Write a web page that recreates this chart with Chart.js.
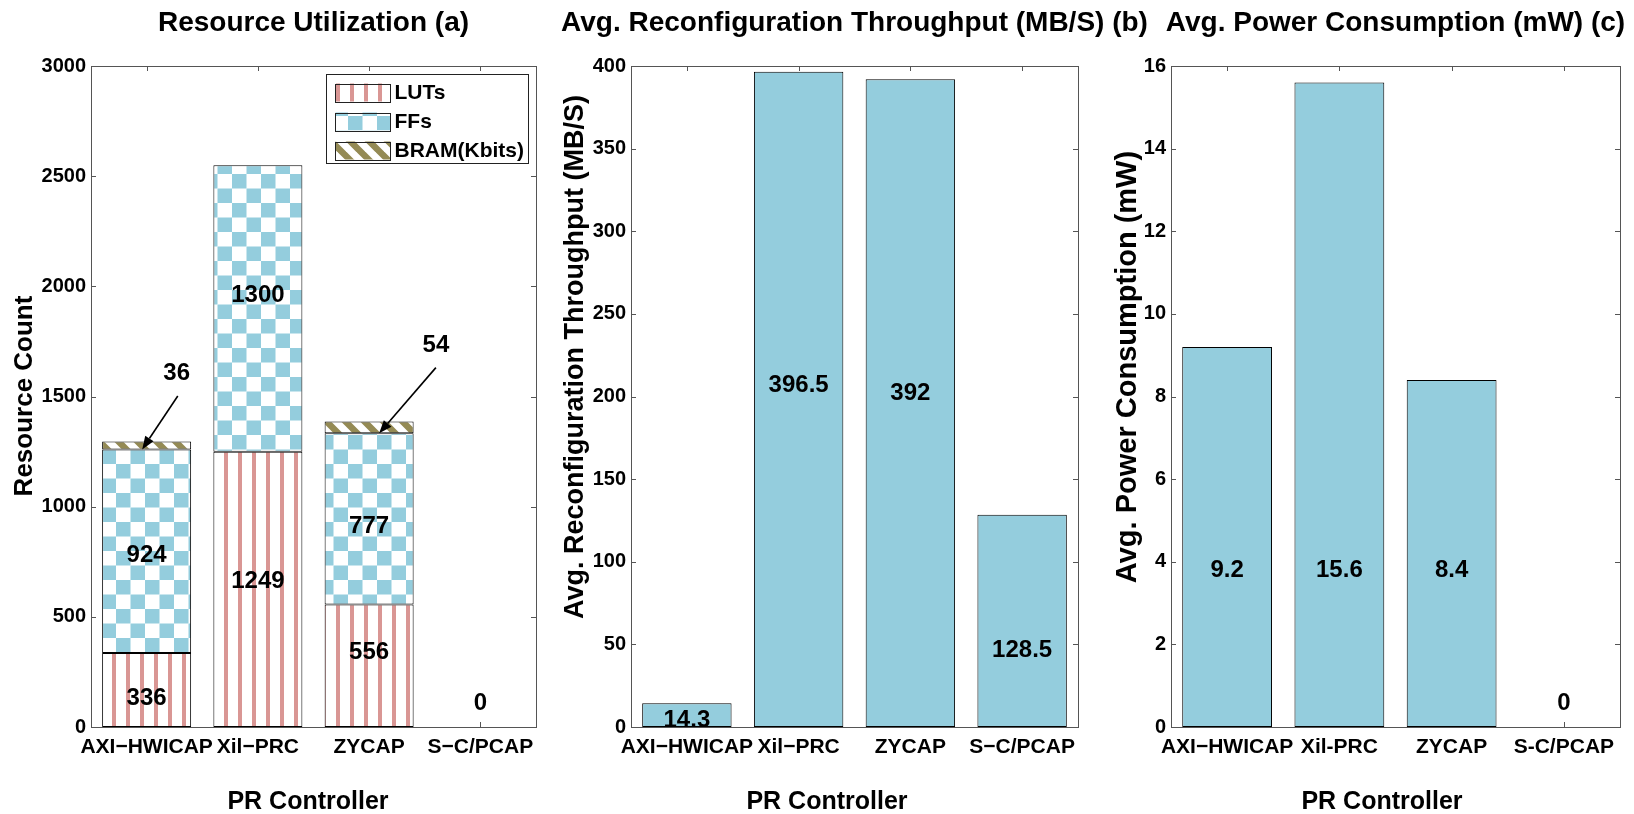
<!DOCTYPE html>
<html><head><meta charset="utf-8">
<script src="https://cdn.jsdelivr.net/npm/chart.js@4.4.1/dist/chart.umd.min.js"></script>
<style>
html,body{margin:0;padding:0;background:#fff;width:1634px;height:814px;overflow:hidden;position:relative;}
canvas{position:absolute;top:0;}
</style></head><body>
<canvas id="ca" width="627" height="814" style="left:0px"></canvas>
<canvas id="cb" width="619" height="814" style="left:545px"></canvas>
<canvas id="cc" width="571" height="814" style="left:1110px"></canvas>
<script>
// ---------- data ----------
const categoriesAB = ['AXI\u2212HWICAP', 'Xil\u2212PRC', 'ZYCAP', 'S\u2212C/PCAP'];
const categoriesC  = ['AXI\u2212HWICAP', 'Xil-PRC', 'ZYCAP', 'S-C/PCAP'];
const lutValues  = [336, 1249, 556, 0];
const ffValues   = [924, 1300, 777, 0];
const bramValues = [36, 0, 54, 0];
const throughputValues = [14.3, 396.5, 392, 128.5];
const powerValues = [9.2, 15.6, 8.4, 0];
const resourceTicks   = [0, 500, 1000, 1500, 2000, 2500, 3000];
const throughputTicks = [0, 50, 100, 150, 200, 250, 300, 350, 400];
const powerTicks      = [0, 2, 4, 6, 8, 10, 12, 14, 16];

// ---------- styles ----------
const FAMILY = "'Liberation Sans', Arial, Helvetica, sans-serif";
const AXIS = '#555555';
const BLUE = '#94CDDD';
const PINK = '#D99694';
const OLIVE = '#948A54';
Chart.defaults.font.family = FAMILY;
Chart.defaults.color = '#000';

function makePattern(ctx, w, h, draw) {
  const c = document.createElement('canvas'); c.width = w; c.height = h;
  const g = c.getContext('2d');
  g.fillStyle = '#fff'; g.fillRect(0, 0, w, h);
  draw(g, w, h);
  return ctx.createPattern(c, 'repeat');
}
function lutPattern(ctx) { return makePattern(ctx, 14, 14, g => { g.fillStyle = PINK; g.fillRect(0, 0, 4, 14); }); }
function ffPattern(ctx) { return makePattern(ctx, 29, 29, g => { g.fillStyle = BLUE; g.fillRect(0, 0, 14.5, 14.5); g.fillRect(14.5, 14.5, 14.5, 14.5); }); }
function bramPattern(ctx) {
  return makePattern(ctx, 19, 19, g => {
    g.strokeStyle = OLIVE; g.lineWidth = 6.5; g.lineCap = 'butt';
    g.beginPath();
    [-19, 0, 19].forEach(o => { g.moveTo(o - 2, -2); g.lineTo(o + 21, 21); });
    g.stroke();
  });
}

// ---------- plugins ----------
const axesBox = {
  id: 'axesBox',
  beforeDatasetsDraw(chart) {
    const { ctx, chartArea: a, scales: { x, y } } = chart;
    ctx.save(); ctx.strokeStyle = AXIS; ctx.lineWidth = 1;
    ctx.beginPath();
    y.ticks.forEach(t => {
      const py = Math.round(y.getPixelForValue(t.value)) + 0.5;
      ctx.moveTo(a.left, py); ctx.lineTo(a.left + 5, py);
      ctx.moveTo(a.right, py); ctx.lineTo(a.right - 5, py);
    });
    x.ticks.forEach((t, i) => {
      const px = Math.round(x.getPixelForValue(i)) + 0.5;
      ctx.moveTo(px, a.bottom); ctx.lineTo(px, a.bottom - 5);
      ctx.moveTo(px, a.top); ctx.lineTo(px, a.top + 5);
    });
    ctx.stroke(); ctx.restore();
  },
  afterDatasetsDraw(chart) {
    const { ctx, chartArea: a } = chart;
    ctx.save(); ctx.strokeStyle = AXIS; ctx.lineWidth = 1;
    ctx.strokeRect(Math.round(a.left) + 0.5, Math.round(a.top) + 0.5, Math.round(a.right - a.left), Math.round(a.bottom - a.top));
    ctx.restore();
  }
};

// axis titles placed where the reference places them
const axisTitles = {
  id: 'axisTitles',
  afterDraw(chart, args, o) {
    const { ctx } = chart;
    ctx.save();
    ctx.fillStyle = '#000'; ctx.textAlign = 'center'; ctx.textBaseline = 'middle';
    ctx.font = `bold ${o.xSize}px ${FAMILY}`;
    ctx.fillText(o.xText, o.xX, o.xY);
    ctx.font = `bold ${o.ySize}px ${FAMILY}`;
    ctx.translate(o.yX, o.yY); ctx.rotate(-Math.PI / 2);
    ctx.fillText(o.yText, 0, 0);
    ctx.restore();
  }
};

const barLabels = {
  id: 'barLabels',
  afterDatasetsDraw(chart, args, o) {
    const { ctx, scales: { x, y } } = chart;
    ctx.save();
    ctx.font = `bold 24px ${FAMILY}`; ctx.fillStyle = '#000';
    ctx.textAlign = 'center'; ctx.textBaseline = 'middle';
    (o.items || []).forEach(it => ctx.fillText(String(it.text), x.getPixelForValue(it.i), y.getPixelForValue(it.v)));
    ctx.restore();
  }
};

const arrowNotes = {
  id: 'arrowNotes',
  afterDatasetsDraw(chart, args, o) {
    const { ctx, scales: { x, y } } = chart;
    ctx.save();
    (o.items || []).forEach(it => {
      const tx = x.getPixelForValue(it.tx), ty = y.getPixelForValue(it.ty);
      const sx = x.getPixelForValue(it.sx), sy = y.getPixelForValue(it.sy);
      const ex = x.getPixelForValue(it.ex), ey = y.getPixelForValue(it.ey);
      ctx.font = `bold 24px ${FAMILY}`; ctx.fillStyle = '#000';
      ctx.textAlign = 'center'; ctx.textBaseline = 'middle';
      ctx.fillText(String(it.text), tx, ty);
      const ang = Math.atan2(ey - sy, ex - sx), L = 13, W = 5;
      const bx = ex - L * Math.cos(ang), by = ey - L * Math.sin(ang);
      ctx.strokeStyle = '#000'; ctx.lineWidth = 1.6;
      ctx.beginPath(); ctx.moveTo(sx, sy); ctx.lineTo(bx, by); ctx.stroke();
      ctx.beginPath();
      ctx.moveTo(ex, ey);
      ctx.lineTo(bx + W * Math.sin(ang), by - W * Math.cos(ang));
      ctx.lineTo(bx - W * Math.sin(ang), by + W * Math.cos(ang));
      ctx.closePath(); ctx.fill();
    });
    ctx.restore();
  }
};

const boxLegend = {
  id: 'boxLegend',
  afterDraw(chart, args, o) {
    if (!o.show) return;
    const { ctx, chartArea: a } = chart;
    const w = 202, h = 89;
    const left = Math.round(a.right - 8 - w) + 0.5, top = Math.round(a.top + 8) + 0.5;
    ctx.save();
    ctx.fillStyle = '#fff'; ctx.fillRect(left, top, w, h);
    ctx.strokeStyle = '#222'; ctx.lineWidth = 1; ctx.strokeRect(left, top, w, h);
    chart.data.datasets.forEach((ds, i) => {
      const cy = top + 18 + i * 29;
      ctx.fillStyle = ds.backgroundColor;
      ctx.fillRect(left + 9, cy - 9, 55, 18);
      ctx.strokeStyle = '#222'; ctx.strokeRect(left + 9, Math.round(cy - 9) + 0.5, 55, 18);
      ctx.fillStyle = '#000'; ctx.font = `bold 21px ${FAMILY}`;
      ctx.textAlign = 'left'; ctx.textBaseline = 'middle';
      ctx.fillText(ds.label, left + 68, cy + 1);
    });
    ctx.restore();
  }
};

function commonOptions(p) {
  return {
    responsive: false, animation: false, devicePixelRatio: 1,
    layout: { padding: 0 },
    datasets: { bar: { barPercentage: 0.8, categoryPercentage: 1 } },
    scales: {
      x: {
        stacked: !!p.stacked,
        grid: { display: false, drawTicks: false }, border: { display: false },
        ticks: { font: { size: 21, weight: 'bold' }, color: '#000', padding: 8, maxRotation: 0, minRotation: 0, autoSkip: false },
        title: { display: false },
        afterFit(s) { s.height = 87; }
      },
      y: {
        stacked: !!p.stacked, min: p.ticks[0], max: p.ticks[p.ticks.length - 1],
        grid: { display: false, drawTicks: false }, border: { display: false },
        ticks: { font: { size: 20, weight: 'bold' }, color: '#000', padding: 5, callback: v => String(v) },
        afterBuildTicks(s) { s.ticks = p.ticks.map(v => ({ value: v })); },
        afterFit(s) { s.width = p.yWidth; }
      },
      yR: {
        type: 'linear', position: 'right', display: true,
        grid: { display: false, drawTicks: false }, border: { display: false },
        ticks: { display: false },
        afterFit(s) { s.width = p.yWidth; }
      }
    },
    plugins: {
      legend: { display: false }, tooltip: { enabled: false },
      title: { display: true, text: p.title, font: { size: 28, weight: 'bold' }, color: '#000', padding: { top: 6, bottom: 26.4 } },
      axisTitles: p.axisTitles,
      barLabels: { items: p.labels },
      arrowNotes: { items: p.arrows || [] },
      boxLegend: { show: !!p.legend }
    }
  };
}
const PLUGINS = [axesBox, axisTitles, barLabels, arrowNotes, boxLegend];
const bar = (label, data, bg) => ({ label, data, backgroundColor: bg, borderColor: '#000', borderWidth: 1, borderSkipped: false });

// ---------- (a) ----------
const ctxA = document.getElementById('ca').getContext('2d');
new Chart(ctxA, {
  type: 'bar',
  data: { labels: categoriesAB, datasets: [
    bar('LUTs', lutValues, lutPattern(ctxA)),
    bar('FFs', ffValues, ffPattern(ctxA)),
    bar('BRAM(Kbits)', bramValues, bramPattern(ctxA))
  ] },
  options: commonOptions({
    stacked: true, yWidth: 91, ticks: resourceTicks,
    title: 'Resource Utilization (a)',
    axisTitles: { xText: 'PR Controller', xX: 308, xY: 802, xSize: 25, yText: 'Resource Count', yX: 25, yY: 396, ySize: 26 },
    legend: true,
    labels: [
      { i: 0, v: 132, text: lutValues[0] }, { i: 0, v: 781, text: ffValues[0] },
      { i: 1, v: 663, text: lutValues[1] }, { i: 1, v: 1961, text: ffValues[1] },
      { i: 2, v: 340, text: lutValues[2] }, { i: 2, v: 912, text: ffValues[2] },
      { i: 3, v: 109, text: lutValues[3] + ffValues[3] + bramValues[3] }
    ],
    arrows: [
      { text: bramValues[0], tx: 0.27, ty: 1607, sx: 0.28, sy: 1502, ex: -0.04, ey: lutValues[0] + ffValues[0] },
      { text: bramValues[2], tx: 2.6, ty: 1734, sx: 2.6, sy: 1631, ex: 2.09, ey: lutValues[2] + ffValues[2] }
    ]
  }),
  plugins: PLUGINS
});

// ---------- (b) ----------
const ctxB = document.getElementById('cb').getContext('2d');
new Chart(ctxB, {
  type: 'bar',
  data: { labels: categoriesAB, datasets: [ bar('Throughput', throughputValues, BLUE) ] },
  options: commonOptions({
    yWidth: 86, ticks: throughputTicks,
    title: 'Avg. Reconfiguration Throughput (MB/S) (b)',
    axisTitles: { xText: 'PR Controller', xX: 282, xY: 802, xSize: 25, yText: 'Avg. Reconfiguration Throughput (MB/S)', yX: 31, yY: 357, ySize: 27 },
    labels: [
      { i: 0, v: 4.2, text: throughputValues[0] }, { i: 1, v: 207, text: throughputValues[1] },
      { i: 2, v: 202, text: throughputValues[2] }, { i: 3, v: 46.6, text: throughputValues[3] }
    ]
  }),
  plugins: PLUGINS
});

// ---------- (c) ----------
const ctxC = document.getElementById('cc').getContext('2d');
new Chart(ctxC, {
  type: 'bar',
  data: { labels: categoriesC, datasets: [ bar('Power', powerValues, BLUE) ] },
  options: commonOptions({
    yWidth: 61, ticks: powerTicks,
    title: 'Avg. Power Consumption (mW) (c)',
    axisTitles: { xText: 'PR Controller', xX: 272, xY: 802, xSize: 25, yText: 'Avg. Power Consumption (mW)', yX: 18, yY: 367, ySize: 29 },
    labels: [
      { i: 0, v: 3.8, text: powerValues[0] }, { i: 1, v: 3.8, text: powerValues[1] },
      { i: 2, v: 3.8, text: powerValues[2] }, { i: 3, v: 0.58, text: powerValues[3] }
    ]
  }),
  plugins: PLUGINS
});
</script>
</body></html>
